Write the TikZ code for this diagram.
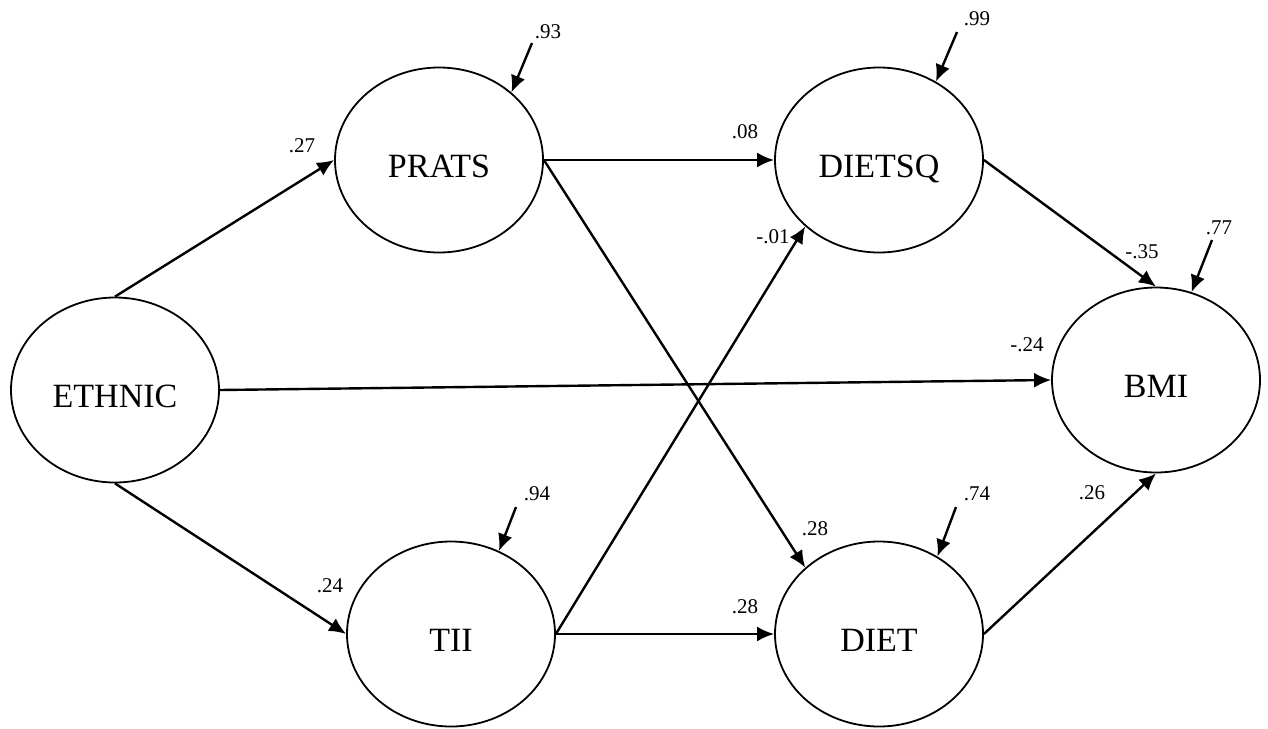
\documentclass[tikz,border=0pt]{standalone}
\usepackage{fontspec}
\setmainfont{Liberation Serif}
\usetikzlibrary{shapes.geometric,arrows.meta}
\begin{document}
\begin{tikzpicture}[x=1pt,y=-1pt,
  var/.style={draw,ellipse,line width=1.8pt,minimum width=208pt,minimum height=185pt,
    inner sep=0pt,text height=35pt,text depth=0pt,font=\fontsize{34}{40}\selectfont},
  conn/.style={line width=2.4pt,-{Latex[length=17pt,width=15pt]}},
  coef/.style={font=\fontsize{21}{24}\selectfont,inner sep=0pt}]
\useasboundingbox (0,0) rectangle (1268,728);
% variables
\node[var] (ethnic) at (115,390) {ETHNIC};
\node[var] (prats)  at (439,160) {PRATS};
\node[var] (dietsq) at (879,160) {DIETSQ};
\node[var] (tii)    at (451,634) {TII};
\node[var] (diet)   at (879,634) {DIET};
\node[var] (bmi)    at (1156,380) {BMI};
% paths
\draw[conn] (ethnic.north) -- (prats.west);
\draw[conn] (ethnic.south) -- (tii.west);
\draw[conn] (ethnic.east) -- (bmi.west);
\draw[conn] (prats.east) -- (dietsq.west);
\draw[conn] (prats.east) -- (diet.138);
\draw[conn] (tii.east) -- (dietsq.222);
\draw[conn] (tii.east) -- (diet.west);
\draw[conn] (dietsq.east) -- (bmi.north);
\draw[conn] (diet.east) -- (bmi.south);
% error terms
\coordinate (e1) at (532,43);
\coordinate (e2) at (957,32);
\coordinate (e3) at (516,507);
\coordinate (e4) at (956,507);
\coordinate (e5) at (1212,240);
\draw[conn] (e1) -- (prats.43);
\draw[conn] (e2) -- (dietsq.54);
\draw[conn] (e3) -- (tii.60);
\draw[conn] (e4) -- (diet.53);
\draw[conn] (e5) -- (bmi.68);
\node[coef] (l93) at (548,32) {.93};
\node[coef] (l99) at (977,19) {.99};
\node[coef] (l94) at (537,494) {.94};
\node[coef] (l74) at (977,494) {.74};
\node[coef] (l77) at (1219,228) {.77};
% coefficients
\node[coef] (c1) at (302,146) {.27};
\node[coef] (c2) at (330,586) {.24};
\node[coef] (c3) at (1027,345) {-.24};
\node[coef] (c4) at (745,132) {.08};
\node[coef] (c5) at (815,529) {.28};
\node[coef] (c6) at (773,237) {-.01};
\node[coef] (c7) at (745,607) {.28};
\node[coef] (c8) at (1142,252) {-.35};
\node[coef] (c9) at (1092,493) {.26};
\end{tikzpicture}
\end{document}
